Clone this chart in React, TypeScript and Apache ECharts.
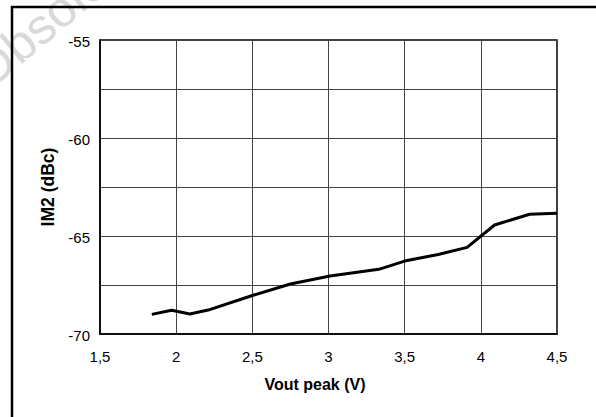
import React, { useEffect, useRef } from "react";
import * as echarts from "echarts";

const voutPeak = [1.84, 1.97, 2.09, 2.21, 2.51, 2.75, 3.01, 3.33, 3.5, 3.72, 3.91, 4.09, 4.32, 4.5];
const im2 = [-69.0, -68.79, -68.98, -68.78, -68.01, -67.45, -67.04, -66.7, -66.28, -65.94, -65.58, -64.44, -63.89, -63.84];
const xTitle = "Vout peak (V)";
const yTitle = "IM2 (dBc)";
const watermark = "Obsolete Product(s)";

const FONT = "'Liberation Sans', Arial, sans-serif";

export default function App() {
  const ref = useRef<HTMLDivElement>(null);
  useEffect(() => {
    if (!ref.current) return;
    const chart = echarts.init(ref.current, undefined, { renderer: "svg" });
    chart.setOption({
      animation: false,
      backgroundColor: "#fff",
      grid: {
        left: 100,
        right: 39,
        top: 40,
        bottom: 83,
        show: true,
        borderColor: "#000",
        borderWidth: 1.5,
      },
      xAxis: {
        type: "value",
        min: 1.5,
        max: 4.5,
        interval: 0.5,
        name: xTitle,
        nameLocation: "middle",
        nameGap: 42,
        nameTextStyle: {
          fontFamily: FONT,
          fontWeight: "bold",
          fontSize: 16,
          color: "#000",
          padding: [0, 27, 0, 0],
        },
        axisLine: { show: true, lineStyle: { color: "#000", width: 1.5 } },
        axisTick: { show: false },
        axisLabel: {
          margin: 15,
          fontFamily: FONT,
          fontSize: 15,
          color: "#000",
          formatter: (v: number) => String(v).replace(".", ","),
        },
        splitLine: { show: true, lineStyle: { color: "#444", width: 1 } },
      },
      yAxis: {
        type: "value",
        min: -70,
        max: -55,
        interval: 2.5,
        name: yTitle,
        nameLocation: "middle",
        nameGap: 42,
        nameRotate: 90,
        nameTextStyle: {
          fontFamily: FONT,
          fontWeight: "bold",
          fontSize: 17.5,
          color: "#000",
        },
        axisLine: { show: true, lineStyle: { color: "#000", width: 1.5 } },
        axisTick: { show: false },
        axisLabel: {
          margin: 10,
          fontFamily: FONT,
          fontSize: 15,
          color: "#000",
          verticalAlign: "top",
          lineHeight: 2,
          formatter: (v: number) => (Math.abs(v % 5) < 1e-9 ? String(v) : ""),
        },
        splitLine: { show: true, lineStyle: { color: "#444", width: 1 } },
      },
      graphic: [
        {
          type: "text",
          x: -5,
          y: 97,
          rotation: 0.698,
          z: -10,
          style: {
            text: watermark,
            font: "50px 'Liberation Sans', Arial, sans-serif",
            fill: "#d9d9d9",
            textVerticalAlign: "bottom",
          },
        },
        {
          type: "polyline",
          z: 100,
          shape: { points: [[12, 417], [12, 7], [596, 7]] },
          style: { stroke: "#000", lineWidth: 2.5, fill: null },
        },
      ],
      series: [
        {
          type: "line",
          data: voutPeak.map((x, i) => [x, im2[i]]),
          showSymbol: false,
          symbol: "none",
          lineStyle: { color: "#000", width: 3 },
          z: 5,
        },
      ],
    });
    return () => chart.dispose();
  }, []);
  return (
    <div
      ref={ref}
      style={{ position: "absolute", left: 0, top: 0, width: 596, height: 417 }}
    />
  );
}
